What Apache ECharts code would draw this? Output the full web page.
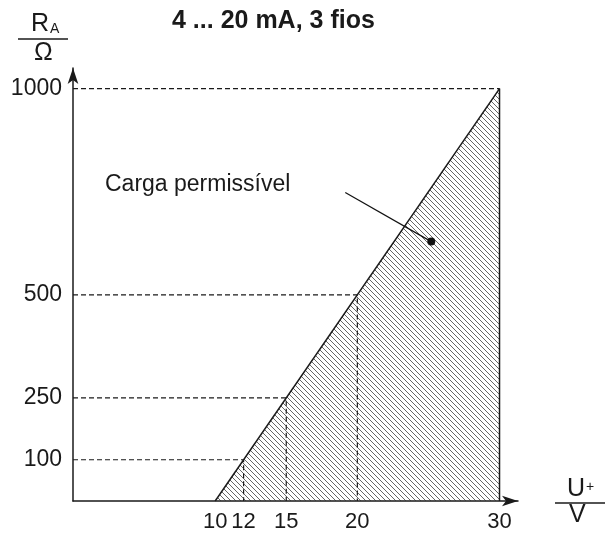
<!DOCTYPE html>
<html><head><meta charset="utf-8">
<script src="https://cdn.jsdelivr.net/npm/echarts@6/dist/echarts.min.js"></script>
<style>html,body{margin:0;padding:0;background:#fff}#c{width:606px;height:533px}</style>
</head><body><div id="c"></div>
<script>
// Data
const xTickLabels = [10, 12, 15, 20, 30];
const yTickLabels = [100, 250, 500, 1000];
const boundary = [[10, 0], [30, 1000]];          // permissible load limit line
const guideX = [12, 15, 20];                      // dashed guide points on the limit line
const guideY = [100, 250, 500];
const topPoint = [30, 1000];
const leaderStart = [19.15, 748];
const leaderEnd = [25.2, 629];

const FONT = "'Liberation Sans', Arial, Helvetica, sans-serif";
const INK = '#1a1a1a';

// hatch pattern
const pc = document.createElement('canvas');
pc.width = 5; pc.height = 5;
const g = pc.getContext('2d');
g.strokeStyle = '#333'; g.lineWidth = 0.75;
g.beginPath();
g.moveTo(-1, -1); g.lineTo(6, 6);
g.moveTo(-1, 4); g.lineTo(1, 6);
g.moveTo(4, -1); g.lineTo(6, 1);
g.stroke();

const series = [];
series.push({
  type: 'line', data: boundary, symbol: 'none', silent: true, z: 3,
  lineStyle: { color: INK, width: 1.5 },
  areaStyle: { color: { image: pc, repeat: 'repeat' }, opacity: 1, origin: 'start' }
});
guideX.forEach((x, i) => {
  series.push({
    type: 'line', symbol: 'none', silent: true, z: 2,
    data: [[0, guideY[i]], [x, guideY[i]], [x, 0]],
    lineStyle: { color: INK, width: 1.2, type: [5, 3] }
  });
});
series.push({
  type: 'line', symbol: 'none', silent: true, z: 2,
  data: [[0, topPoint[1]], topPoint],
  lineStyle: { color: INK, width: 1.2, type: [5, 3] }
});
series.push({
  type: 'line', symbol: 'none', silent: true, z: 3,
  data: [topPoint, [topPoint[0], 0]],
  lineStyle: { color: INK, width: 1.5 }
});
series.push({
  type: 'line', silent: true, z: 4,
  data: [{ value: leaderStart, symbol: 'none' }, { value: leaderEnd, symbol: 'circle', symbolSize: 8 }],
  showSymbol: true,
  itemStyle: { color: '#111' },
  lineStyle: { color: '#111', width: 1.2 }
});

const chart = echarts.init(document.getElementById('c'));
chart.setOption({
  animation: false,
  backgroundColor: '#fff',
  grid: { left: 73, right: 88, top: 68, bottom: 32, outerBoundsMode: 'none' },
  xAxis: {
    type: 'value', min: 0, max: 31.3,
    axisLine: { show: true, symbol: ['none', 'arrow'], symbolSize: [8, 16], lineStyle: { color: INK, width: 1.5 } },
    axisTick: { show: false }, splitLine: { show: false },
    axisLabel: { customValues: xTickLabels, formatter: v => String(v), fontSize: 22, color: INK, fontFamily: FONT, margin: 10 }
  },
  yAxis: {
    type: 'value', min: 0, max: 1050,
    axisLine: { show: true, symbol: ['none', 'arrow'], symbolSize: [8, 16], lineStyle: { color: INK, width: 1.5 } },
    axisTick: { show: false }, splitLine: { show: false },
    axisLabel: { customValues: yTickLabels, formatter: v => String(v), fontSize: 23, color: INK, fontFamily: FONT, margin: 11 }
  },
  series: series,
  graphic: [
    { type: 'text', left: 172, top: 9, style: { text: '4 ... 20 mA, 3 fios', font: 'bold 25px ' + FONT, fill: INK } },
    { type: 'text', left: 105, top: 173, style: { text: 'Carga permissível', font: '23px ' + FONT, fill: INK } },
    { type: 'text', left: 31, top: 12, style: { text: 'R', font: '25px ' + FONT, fill: INK } },
    { type: 'text', left: 50, top: 22, style: { text: 'A', font: '14px ' + FONT, fill: INK } },
    { type: 'line', shape: { x1: 18, y1: 39, x2: 68, y2: 39 }, style: { stroke: INK, lineWidth: 1.5 } },
    { type: 'text', left: 34, top: 41, style: { text: 'Ω', font: '25px ' + FONT, fill: INK } },
    { type: 'text', left: 567, top: 477, style: { text: 'U', font: '25px ' + FONT, fill: INK } },
    { type: 'text', left: 586, top: 480, style: { text: '+', font: '14px ' + FONT, fill: INK } },
    { type: 'line', shape: { x1: 555, y1: 503, x2: 605, y2: 503 }, style: { stroke: INK, lineWidth: 1.5 } },
    { type: 'text', left: 569, top: 503, style: { text: 'V', font: '25px ' + FONT, fill: INK } }
  ]
});
</script>
</body></html>
